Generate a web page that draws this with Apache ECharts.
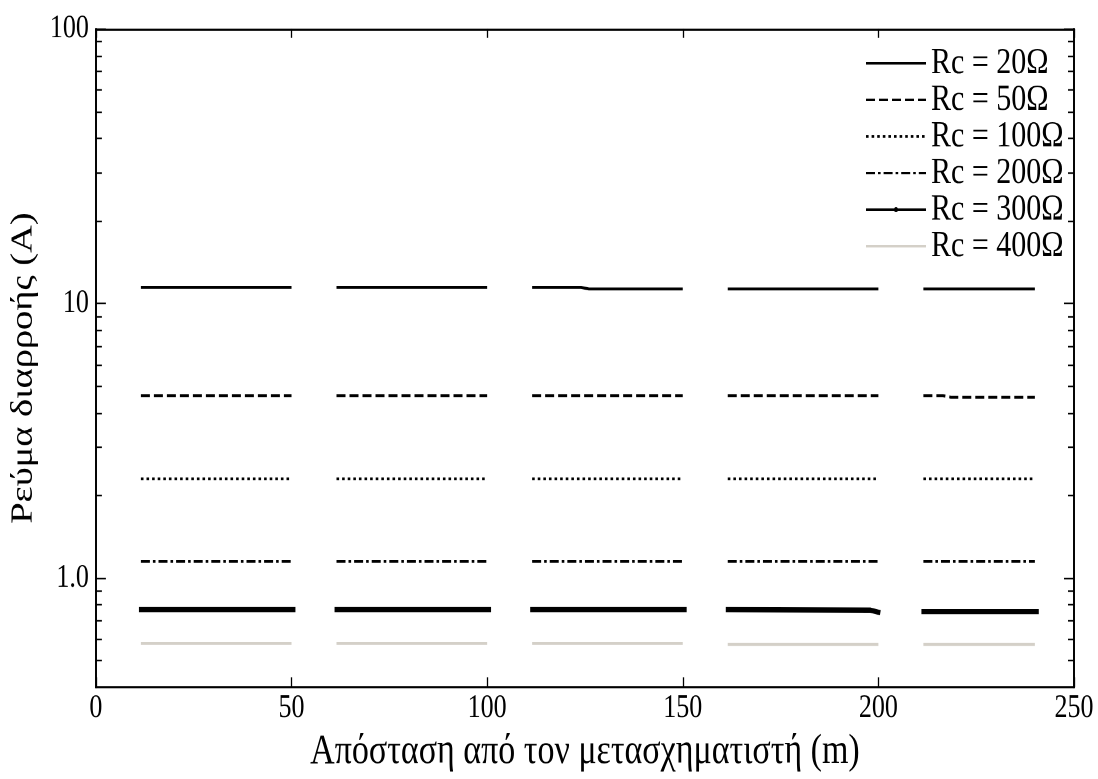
<!DOCTYPE html>
<html>
<head>
<meta charset="utf-8">
<script src="https://cdn.jsdelivr.net/npm/echarts@6/dist/echarts.min.js"></script>
<style>
  html, body { margin: 0; padding: 0; background: #fff; overflow: hidden; }
  #wrap { width: 1098px; height: 779px; overflow: hidden; }
  /* the figure uses tall, narrow lettering: draw at 628px and stretch vertically */
  #chart { width: 1098px; height: 628px; transform: scaleY(1.2404); transform-origin: 0 0; }
</style>
</head>
<body>
<div id="wrap"><div id="chart"></div></div>
<script>
// Leakage current vs. distance from the transformer, for several Rc values.
// '-' marks a gap between measured stretches.
const legendNames = ['Rc = 20Ω', 'Rc = 50Ω', 'Rc = 100Ω', 'Rc = 200Ω', 'Rc = 300Ω', 'Rc = 400Ω'];

const rc20 = [
  [11.5, 11.45], [50, 11.45], [55, '-'],
  [61.5, 11.45], [100, 11.45], [105, '-'],
  [111.5, 11.45], [124, 11.45], [126, 11.3], [150, 11.3], [155, '-'],
  [161.5, 11.3], [200, 11.3], [205, '-'],
  [211.5, 11.3], [240, 11.3]
];
const rc50 = [
  [11.5, 4.62], [50, 4.62], [55, '-'],
  [61.5, 4.62], [100, 4.62], [105, '-'],
  [111.5, 4.62], [150, 4.62], [155, '-'],
  [161.5, 4.62], [200, 4.62], [205, '-'],
  [211.5, 4.62], [216.5, 4.62], [218.5, 4.56], [240, 4.56]
];
const rc100 = [
  [11.5, 2.3], [50, 2.3], [55, '-'],
  [61.5, 2.3], [100, 2.3], [105, '-'],
  [111.5, 2.3], [150, 2.3], [155, '-'],
  [161.5, 2.3], [200, 2.3], [205, '-'],
  [211.5, 2.3], [240, 2.3]
];
const rc200 = [
  [11.5, 1.15], [50, 1.15], [55, '-'],
  [61.5, 1.15], [100, 1.15], [105, '-'],
  [111.5, 1.15], [150, 1.15], [155, '-'],
  [161.5, 1.15], [200, 1.15], [205, '-'],
  [211.5, 1.15], [240, 1.15]
];
const rc300 = [
  [11, 0.767], [51, 0.767], [55, '-'],
  [61, 0.767], [101, 0.767], [105, '-'],
  [111, 0.767], [151, 0.767], [155, '-'],
  [161, 0.767], [198, 0.764], [200.5, 0.748], [205, '-'],
  [211, 0.755], [241, 0.755]
];
const rc400 = [
  [11.5, 0.578], [50, 0.578], [55, '-'],
  [61.5, 0.578], [100, 0.578], [105, '-'],
  [111.5, 0.578], [150, 0.578], [155, '-'],
  [161.5, 0.573], [200, 0.573], [205, '-'],
  [211.5, 0.573], [240, 0.573]
];

const xTicks = [0, 50, 100, 150, 200, 250];
const yMajor = [1, 10, 100];
const yMinor = [0.5, 0.6, 0.7, 0.8, 0.9, 2, 3, 4, 5, 6, 7, 8, 9,
                20, 30, 40, 50, 60, 70, 80, 90];

const serif = 'Liberation Serif, Times New Roman, serif';
const ink = '#000';

const chart = echarts.init(document.getElementById('chart'), null,
  { renderer: 'canvas', devicePixelRatio: 2 });

function lineSeries(name, data, style, extra) {
  return Object.assign({
    name: name,
    type: 'line',
    data: data,
    xAxisIndex: 0,
    yAxisIndex: 0,
    symbol: 'none',
    connectNulls: false,
    animation: false,
    lineStyle: style,
    itemStyle: { color: style.color }
  }, extra || {});
}

function frame(tickLen, values) {
  return {
    axisLine: { show: true, lineStyle: { color: ink, width: 1.8 } },
    axisTick: { show: true, inside: true, length: tickLen,
      lineStyle: { color: ink, width: 1.3 }, customValues: values },
    splitLine: { show: false },
    minorTick: { show: false },
    axisLabel: { show: false }
  };
}

function logAxis(position, tickLen, values, extra) {
  return Object.assign(frame(tickLen, values), {
    type: 'log', logBase: 10, position: position, min: 0.4, max: 100
  }, extra || {});
}

const hiddenSymbol = { opacity: 0 };

chart.setOption({
  backgroundColor: '#fff',
  animation: false,
  grid: { left: 88, right: 24, top: 23.4, bottom: 59.7, containLabel: false },
  legend: {
    orient: 'vertical',
    left: 860,
    top: 31,
    itemWidth: 60,
    itemHeight: 5,
    itemGap: -0.5,
    textStyle: { fontFamily: serif, fontSize: 30, color: ink },
    data: [
      { name: legendNames[0], itemStyle: hiddenSymbol },
      { name: legendNames[1], itemStyle: hiddenSymbol },
      { name: legendNames[2], itemStyle: hiddenSymbol },
      { name: legendNames[3], itemStyle: hiddenSymbol },
      { name: legendNames[4] },
      { name: legendNames[5], itemStyle: hiddenSymbol }
    ]
  },
  xAxis: [
    Object.assign(frame(8, xTicks), {
      type: 'value', position: 'bottom', min: 0, max: 250, interval: 50,
      name: 'Απόσταση από τον μετασχηματιστή (m)',
      nameLocation: 'middle', nameGap: 26,
      nameTextStyle: { fontFamily: serif, fontSize: 34, color: ink },
      axisLabel: { show: true, fontFamily: serif, fontSize: 26, color: ink, margin: 4,
        customValues: xTicks }
    }),
    Object.assign(frame(7, xTicks), {
      type: 'value', position: 'top', min: 0, max: 250, interval: 50
    })
  ],
  yAxis: [
    logAxis('left', 10, yMajor, {
      name: 'Ρεύμα διαρροής (A)',
      nameLocation: 'middle', nameGap: 45, nameRotate: 90,
      nameTextStyle: { fontFamily: serif, fontSize: 31, color: ink, padding: [0, 16, 0, 0] },
      axisLabel: {
        show: true, fontFamily: serif, fontSize: 26, color: ink, margin: 7,
        customValues: yMajor,
        formatter: v => (Math.abs(v - 1) < 1e-9 ? '1.0' : String(Math.round(v)))
      }
    }),
    logAxis('left', 6, yMinor),
    logAxis('right', 10, yMajor),
    logAxis('right', 6, yMinor)
  ],
  series: [
    lineSeries(legendNames[0], rc20, { color: ink, width: 2.4, type: 'solid' }),
    lineSeries(legendNames[1], rc50, { color: ink, width: 2.4, type: [9, 4] }),
    lineSeries(legendNames[2], rc100, { color: ink, width: 2.2, type: [2.6, 3] }),
    lineSeries(legendNames[3], rc200, { color: ink, width: 2.3, type: [9, 3, 2.6, 3] }),
    lineSeries(legendNames[4], rc300, { color: ink, width: 4.2, type: 'solid' },
      { symbol: 'circle', symbolSize: 4, showSymbol: false }),
    lineSeries(legendNames[5], rc400, { color: '#d4d0c8', width: 2.4, type: 'solid' })
  ]
});
</script>
</body>
</html>
